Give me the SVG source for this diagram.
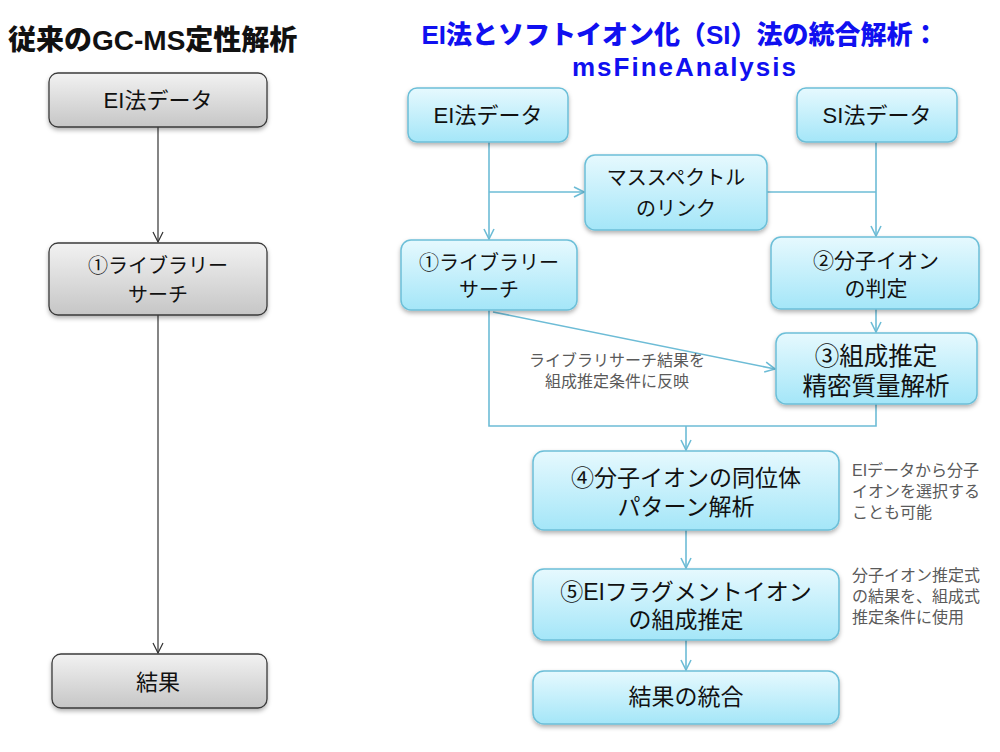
<svg xmlns="http://www.w3.org/2000/svg" width="1000" height="752" viewBox="0 0 1000 752">
<defs>
<linearGradient id="gBlue" x1="0" y1="0" x2="0" y2="1">
<stop offset="0" stop-color="#e6f9fe"/>
<stop offset="1" stop-color="#a4e6f8"/>
</linearGradient>
<linearGradient id="gGray" x1="0" y1="0" x2="0" y2="1">
<stop offset="0" stop-color="#f2f2f2"/>
<stop offset="1" stop-color="#c6c6c6"/>
</linearGradient>
<filter id="sh" x="-10%" y="-10%" width="120%" height="140%">
<feDropShadow dx="0" dy="2.5" stdDeviation="2" flood-color="#000" flood-opacity="0.3"/>
</filter>
<marker id="aB" viewBox="0 0 12 12" refX="11" refY="6" markerWidth="12" markerHeight="12" markerUnits="userSpaceOnUse" orient="auto">
<path d="M1,1 L11,6 L1,11" fill="none" stroke="#6dbcd6" stroke-width="1.6"/>
</marker>
<marker id="aG" viewBox="0 0 12 12" refX="11" refY="6" markerWidth="12" markerHeight="12" markerUnits="userSpaceOnUse" orient="auto">
<path d="M1,1 L11,6 L1,11" fill="none" stroke="#333" stroke-width="1.2"/>
</marker>
</defs>
<style>
.bb{fill:url(#gBlue);stroke:#6cbfd8;stroke-width:1.5;filter:url(#sh)}
.gb{fill:url(#gGray);stroke:#3a3a3a;stroke-width:1.3;filter:url(#sh)}
.t{font-family:"Liberation Sans","Noto Sans CJK JP",sans-serif;fill:#111;text-anchor:middle}
.note{font-family:"Liberation Sans","Noto Sans CJK JP",sans-serif;fill:#5a5a5a;font-size:16px}
.cb{fill:none;stroke:#6dbcd6;stroke-width:1.6}
.cg{fill:none;stroke:#333;stroke-width:1.2}
.h{font-family:"Liberation Sans","Noto Sans CJK JP",sans-serif;font-weight:900}
</style>
<rect width="1000" height="752" fill="#fff"/>

<text class="h" x="8" y="50" font-size="28" fill="#111">従来のGC-MS定性解析</text>
<text class="h" font-size="26" fill="#1010f0" text-anchor="middle"><tspan x="680" y="44">EI法とソフトイオン化（SI）法の統合解析：</tspan><tspan x="685" y="76" letter-spacing="2">msFineAnalysis</tspan></text>

<g id="connectors">
<line class="cg" x1="158" y1="127" x2="158" y2="242" marker-end="url(#aG)"/>
<line class="cg" x1="158" y1="315" x2="158" y2="653" marker-end="url(#aG)"/>
<line class="cb" x1="489" y1="142" x2="489" y2="239" marker-end="url(#aB)"/>
<line class="cb" x1="489" y1="192" x2="584" y2="192" marker-end="url(#aB)"/>
<line class="cb" x1="767" y1="192" x2="876" y2="192"/>
<line class="cb" x1="876" y1="142" x2="876" y2="236" marker-end="url(#aB)"/>
<line class="cb" x1="876" y1="309" x2="876" y2="332" marker-end="url(#aB)"/>
<line class="cb" x1="493" y1="312" x2="775" y2="369" marker-end="url(#aB)"/>
<polyline class="cb" points="489,310 489,426 876,426 876,404"/>
<line class="cb" x1="686" y1="426" x2="686" y2="450" marker-end="url(#aB)"/>
<line class="cb" x1="686" y1="530" x2="686" y2="568" marker-end="url(#aB)"/>
<line class="cb" x1="686" y1="640" x2="686" y2="670" marker-end="url(#aB)"/>
</g>

<g id="l-ei">
<rect class="gb" x="49" y="73" width="218" height="54" rx="9"/>
<text class="t" x="158" y="108" font-size="22">EI法データ</text>
</g>
<g id="l-lib">
<rect class="gb" x="49" y="243" width="218" height="72" rx="9"/>
<text class="t" font-size="20"><tspan x="158" y="273">①ライブラリー</tspan><tspan x="158" y="302">サーチ</tspan></text>
</g>
<g id="l-result">
<rect class="gb" x="52" y="654" width="215" height="54" rx="9"/>
<text class="t" x="158" y="690" font-size="22">結果</text>
</g>

<g id="r-ei">
<rect class="bb" x="408" y="88" width="160" height="54" rx="9"/>
<text class="t" x="488" y="123" font-size="22">EI法データ</text>
</g>
<g id="r-si">
<rect class="bb" x="797" y="88" width="160" height="54" rx="9"/>
<text class="t" x="877" y="123" font-size="22">SI法データ</text>
</g>
<g id="r-link">
<rect class="bb" x="585" y="155" width="182" height="75" rx="10"/>
<text class="t" font-size="20"><tspan x="676" y="185">マススペクトル</tspan><tspan x="676" y="216">のリンク</tspan></text>
</g>
<g id="r-lib">
<rect class="bb" x="401" y="240" width="176" height="70" rx="10"/>
<text class="t" font-size="20"><tspan x="489" y="270">①ライブラリー</tspan><tspan x="489" y="297">サーチ</tspan></text>
</g>
<g id="r-mol">
<rect class="bb" x="771" y="237" width="208" height="72" rx="10"/>
<text class="t" font-size="21"><tspan x="876" y="268">②分子イオン</tspan><tspan x="876" y="296">の判定</tspan></text>
</g>
<g id="r-comp">
<rect class="bb" x="776" y="333" width="201" height="71" rx="10"/>
<text class="t" font-size="24.5"><tspan x="876" y="365">③組成推定</tspan><tspan x="876" y="395">精密質量解析</tspan></text>
</g>
<g id="r-iso">
<rect class="bb" x="533" y="451" width="306" height="79" rx="11"/>
<text class="t" font-size="23"><tspan x="686" y="486">④分子イオンの同位体</tspan><tspan x="686" y="515">パターン解析</tspan></text>
</g>
<g id="r-frag">
<rect class="bb" x="533" y="569" width="306" height="71" rx="11"/>
<text class="t" font-size="23"><tspan x="686" y="600">⑤EIフラグメントイオン</tspan><tspan x="686" y="628">の組成推定</tspan></text>
</g>
<g id="r-result">
<rect class="bb" x="533" y="671" width="306" height="53" rx="11"/>
<text class="t" x="686" y="705" font-size="23">結果の統合</text>
</g>

<g id="notes">
<text class="note" text-anchor="middle"><tspan x="617" y="366">ライブラリサーチ結果を</tspan><tspan x="617" y="387">組成推定条件に反映</tspan></text>
<text class="note"><tspan x="852" y="476">EIデータから分子</tspan><tspan x="852" y="497">イオンを選択する</tspan><tspan x="852" y="518">ことも可能</tspan></text>
<text class="note"><tspan x="852" y="581">分子イオン推定式</tspan><tspan x="852" y="602">の結果を、組成式</tspan><tspan x="852" y="623">推定条件に使用</tspan></text>
</g>
</svg>
